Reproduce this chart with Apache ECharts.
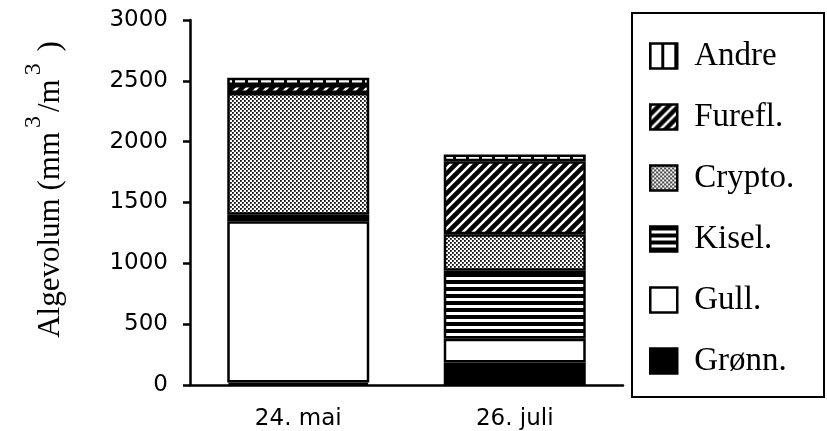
<!DOCTYPE html>
<html>
<head>
<meta charset="utf-8">
<script src="https://cdn.jsdelivr.net/npm/echarts@6/dist/echarts.min.js"></script>
<style>html,body{margin:0;padding:0;background:#fff;}#c{width:827px;height:431px;}</style>
</head>
<body>
<div id="c"></div>
<script>
const categories = ['24. mai', '26. juli'];
const yTicks = [0, 500, 1000, 1500, 2000, 2500, 3000];
const gronn = [20, 185];
const gull = [1325, 195];
const kisel = [55, 560];
const crypto = [1000, 300];
const furefl = [65, 600];
const andre = [60, 55];

function pat(w, h, draw) {
  const c = document.createElement('canvas');
  c.width = w; c.height = h;
  const ctx = c.getContext('2d');
  ctx.fillStyle = '#fff'; ctx.fillRect(0, 0, w, h);
  ctx.fillStyle = '#000'; ctx.strokeStyle = '#000';
  draw(ctx, w, h);
  return { image: c, repeat: 'repeat' };
}
const pAndre = pat(13, 4, (ctx) => { ctx.fillRect(11, 0, 2, 4); ctx.fillRect(0, 0, 1, 4); });
const pFurefl = pat(10, 10, (ctx) => {
  ctx.lineWidth = 4.5;
  ctx.beginPath();
  ctx.moveTo(-5, 15); ctx.lineTo(15, -5);
  ctx.moveTo(-5, 5); ctx.lineTo(5, -5);
  ctx.moveTo(5, 15); ctx.lineTo(15, 5);
  ctx.stroke();
});
const pCrypto = pat(4, 4, (ctx) => { ctx.fillStyle = '#111'; ctx.fillRect(0, 0, 1.8, 1.8); ctx.fillRect(2, 2, 1.8, 1.8); });
const pKisel = pat(4, 7, (ctx) => { ctx.fillRect(0, 0, 4, 4); });

const chart = echarts.init(document.getElementById('c'), null, { renderer: 'canvas' });
const border = { borderColor: '#000', borderWidth: 2.5 };
function mk(name, data, color) {
  return { name, type: 'bar', stack: 'a', barWidth: 142, data, itemStyle: Object.assign({ color }, border) };
}
chart.setOption({
  animation: false,
  grid: { left: 190, right: 204, top: 20, bottom: 45 },
  legend: {
    orient: 'vertical', left: 644, top: 34,
    itemWidth: 27, itemHeight: 25, itemGap: 27,
    icon: 'rect',
    itemStyle: { borderColor: '#000', borderWidth: 2.5 },
    textStyle: { fontFamily: 'Liberation Serif', fontSize: 33, color: '#000', padding: [0, 0, 0, 12], lineHeight: 34 },
    data: ['Andre', 'Furefl.', 'Crypto.', 'Kisel.', 'Gull.', 'Grønn.']
  },
  graphic: [{ type: 'rect', shape: { x: 632, y: 13, width: 192, height: 384 }, style: { fill: 'none', stroke: '#000', lineWidth: 2 } }],
  xAxis: {
    type: 'category', data: categories,
    axisLine: { lineStyle: { color: '#000', width: 2.5 } },
    axisTick: { length: 8, lineStyle: { color: '#000', width: 2.5 } },
    axisLabel: { color: '#000', fontFamily: 'DejaVu Sans', fontSize: 23, margin: 23 }
  },
  yAxis: {
    type: 'value', min: 0, max: 3000, interval: 500,
    splitLine: { show: false },
    axisLine: { show: true, lineStyle: { color: '#000', width: 2.5 } },
    axisTick: { show: true, length: 7, lineStyle: { color: '#000', width: 2.5 } },
    axisLabel: { color: '#000', fontFamily: 'DejaVu Sans', fontSize: 23, margin: 22,
      formatter: v => yTicks.indexOf(v) >= 0 ? String(v) : '' },
    name: '{a|Algevolum (mm}{s|3}{a|/m}{s|3}{a| )}',
    nameLocation: 'middle', nameRotate: 90, nameGap: 124,
    nameTextStyle: {
      padding: [0, 0, 0, 26],
      rich: {
        a: { fontFamily: 'Liberation Serif', fontSize: 31, color: '#000', lineHeight: 31, verticalAlign: 'bottom' },
        s: { fontFamily: 'Liberation Serif', fontSize: 24, color: '#000', verticalAlign: 'top', padding: [0, 4, 20, 4] }
      }
    }
  },
  series: [
    mk('Grønn.', gronn, '#000'),
    mk('Gull.', gull, '#fff'),
    mk('Kisel.', kisel, pKisel),
    mk('Crypto.', crypto, pCrypto),
    mk('Furefl.', furefl, pFurefl),
    mk('Andre', andre, pAndre)
  ]
});
</script>
</body>
</html>
